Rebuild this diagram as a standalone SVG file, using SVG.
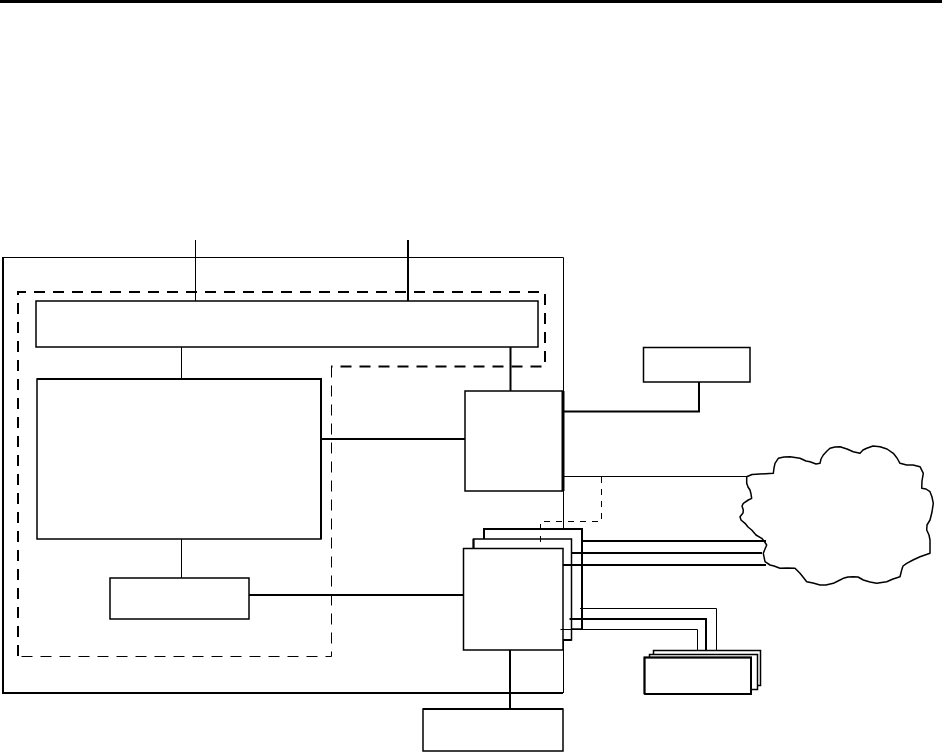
<svg xmlns="http://www.w3.org/2000/svg" width="942" height="753" viewBox="0 0 942 753">
<style>
.box{fill:#fff;stroke:#000;stroke-width:1.5}
.thin{fill:none;stroke:#000;stroke-width:1}
.thick{fill:none;stroke:#000;stroke-width:2}
.dash{fill:none;stroke:#000;stroke-width:2;stroke-dasharray:11 8}
.dasht{fill:none;stroke:#000;stroke-width:1;stroke-dasharray:11 8}
.dashs{fill:none;stroke:#000;stroke-width:1;stroke-dasharray:6 6}
</style>
<rect x="0" y="0" width="942" height="3" fill="#000"/>
<g id="enclosure">
<path class="thin" d="M3,257.5 H563.5 V693"/>
<path class="thick" d="M3,257 V693 H563"/>
</g>
<g id="domain">
<path class="dash" d="M18,656 V292 H545 V366.5 H331"/>
<path class="dasht" d="M331.5,366.5 V656.5 H18"/>
</g>
<g id="connectors">
<line class="thin" x1="195.5" y1="240" x2="195.5" y2="301"/>
<line class="thick" x1="408" y1="240" x2="408" y2="301"/>
<line class="thin" x1="181.5" y1="347" x2="181.5" y2="379"/>
<line class="thick" x1="510.5" y1="347" x2="510.5" y2="391"/>
<line class="thick" x1="322" y1="439" x2="465" y2="439"/>
<line class="thin" x1="181.5" y1="539" x2="181.5" y2="578"/>
<line class="thick" x1="249" y1="595" x2="463" y2="595"/>
<path class="thick" d="M563,411.5 H699 V382"/>
<line class="thin" x1="563" y1="476.5" x2="760" y2="476.5"/>
<line class="thick" x1="510" y1="650" x2="510" y2="709"/>
</g>
<g id="node-bus"><rect class="box" x="36" y="301" width="502" height="46"/></g>
<g id="node-main"><rect class="box" x="37" y="379" width="284" height="160"/><path class="thick" d="M37,379 H321 V539"/></g>
<g id="node-small"><rect class="box" x="110" y="578" width="139" height="41"/></g>
<g id="node-router"><rect class="box" x="465" y="391" width="98" height="100"/><line x1="563" y1="391" x2="563" y2="491" stroke="#000" stroke-width="3"/></g>
<g id="node-topright"><rect class="box" x="643.5" y="347.5" width="106.5" height="34.5"/></g>
<g id="node-bottom"><rect class="box" x="423" y="709" width="140" height="42"/><line class="thick" x1="423" y1="709" x2="563" y2="709"/></g>
<g id="node-cards">
<rect class="box" x="484" y="529" width="98" height="100"/>
<path class="thick" d="M484,539 V529 H582 V629"/>
<rect class="box" x="473.5" y="539" width="98" height="101"/>
<path class="thick" d="M473.5,548 V539 M563,640 H571.5"/>
<rect class="box" x="463.5" y="548.5" width="99.5" height="101.5"/>
</g>
<g id="node-cloud">
<path fill="#fff" stroke="#000" stroke-width="1.5" stroke-linejoin="round" d="M746.7,476.7 L752,474.5 L760,474 L773.3,473.3 L774,468 L775,463.3 L778.3,458.3 L784,457 L790,456.7 L800,458.3 L806,461 L810,461.7 L816,464 L820,463.3 L821,459 L823.3,455 L827,451 L830,448.3 L835,447 L840,446.7 L847,449 L853.3,451.7 L860,453.3 L863,450 L866.7,448.3 L873,446 L880,446.7 L887,449 L893.3,453.3 L897,458 L900,463.3 L906.7,465 L913,465 L920,466.7 L923.3,473.3 L922,481 L921.7,488.3 L926,489 L930,491.7 L932,497 L933.3,503.3 L932,512 L930,520 L927,525 L926.7,530 L929,535 L930,540 L930,547 L930,553.3 L925,555 L920,556.7 L913,560 L906.7,563.3 L903,566 L901.7,570 L900,576.7 L893,579 L886.7,581.7 L876.7,583.3 L870,582 L863.3,580 L858,577 L853.3,576.7 L848,577 L843.3,578.3 L838,581 L833.3,583.3 L826,585 L820,585 L813,583 L806.7,581.7 L803,577 L800,573.3 L795,568.3 L787,568 L780,568.3 L774,566 L770,565 L765,561.7 L763.3,553.3 L765,549 L766.7,545 L764,541 L761.7,538.3 L756,535 L751.7,530 L748,527 L745,523.3 L741,520 L740,516.7 L743,513 L743.3,510 L742,506 L743.3,503.3 L748.3,500 L751.7,498.3 L751,494 L750,490 L748,487 L746.7,483.3 Z"/>
</g>
<g id="connectors-2">
<line class="thick" x1="581" y1="541" x2="766" y2="541"/>
<line class="thick" x1="571.5" y1="553" x2="762" y2="553"/>
<line class="thick" x1="563" y1="565" x2="766" y2="565"/>
<path class="thin" d="M580,608.5 H716.5 V651"/>
<path class="thick" d="M569.5,619 H706 V655"/>
<path class="thin" d="M560.5,629.5 H697.5 V657.5"/>
<path class="dashs" d="M601.5,477 V521.5 H540.5 V548"/>
</g>
<g id="node-devices">
<rect class="box" x="653.5" y="650.5" width="107" height="35"/>
<rect class="box" x="649.5" y="654.5" width="108" height="35"/>
<rect class="box" x="644.5" y="657.5" width="106.5" height="36.5"/>
<path class="thick" d="M644.5,694 V657.5 H751 V694 H644.5"/>
</g>
</svg>
